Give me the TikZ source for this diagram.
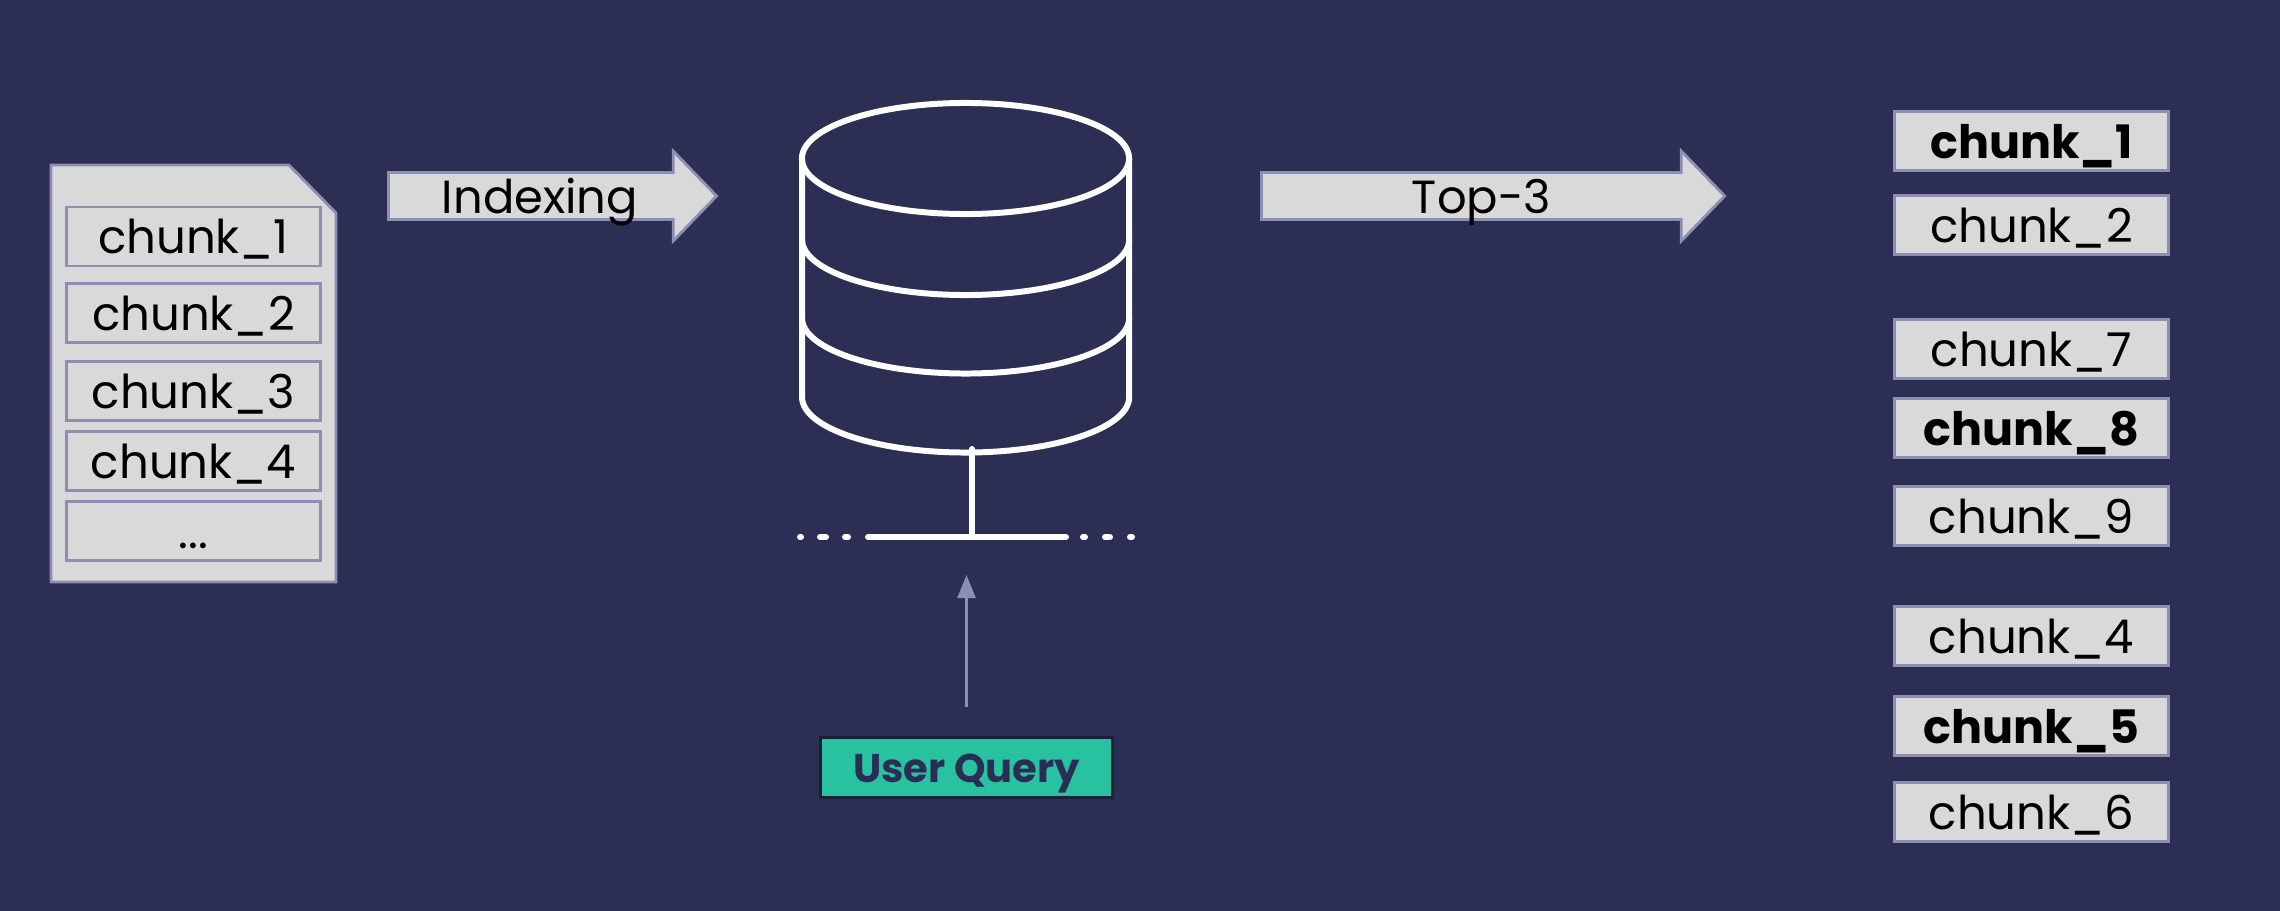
\documentclass[tikz,border=0pt]{standalone}
\usepackage{fontspec}
\setmainfont{Poppins}
\usetikzlibrary{arrows.meta,shapes.arrows}
\definecolor{bgnavy}{HTML}{2C2E54}
\definecolor{boxgrey}{HTML}{D9D9D9}
\definecolor{boxedge}{HTML}{8C8EB4}
\definecolor{queryteal}{HTML}{28C2A0}
\definecolor{querydark}{HTML}{1C1F3C}
\definecolor{querytext}{HTML}{2A2D55}
\tikzset{
  chunkbox/.style={draw=boxedge,line width=0.8pt,fill=boxgrey,inner sep=0pt,text=black,
    minimum width=2.54cm,minimum height=0.59cm,text height=0.34cm,text depth=0cm,font=\fontsize{13.25}{16}\selectfont},
  topchunk/.style={chunkbox,minimum width=2.74cm},
  hitchunk/.style={topchunk,font=\fontsize{13.1}{16}\selectfont\bfseries},
  blockarrow/.style={single arrow,draw=boxedge,line width=0.8pt,fill=boxgrey,anchor=tail,inner sep=0pt,
    text height=0.44cm,text depth=0cm,single arrow head extend=0.215cm,single arrow tip angle=92,single arrow head indent=0cm},
  arrowlabel/.style={inner sep=0pt,text=black,text height=0.34cm,text depth=0cm,font=\fontsize{13.2}{16}\selectfont},
  dbline/.style={draw=white,line width=1.7pt,line cap=round,line join=round},
  docshape/.style={draw=boxedge,line width=0.8pt,fill=boxgrey},
  querybox/.style={draw=querydark,line width=0.9pt,fill=queryteal,inner sep=0pt,text=querytext,
    minimum width=2.92cm,minimum height=0.6cm,text height=0.29cm,text depth=0cm,font=\fontsize{11.4}{14}\selectfont\bfseries},
  queryarrow/.style={draw=boxedge,line width=0.75pt,-{Triangle[length=0.23cm,width=0.18cm]}}
}
\begin{document}
\begin{tikzpicture}
    \def\x{0.01}
    \def\y{-0.01}
    \useasboundingbox (0*\x, 0*\y) rectangle (2280*\x, 910*\y);
    \fill [bgnavy] (-2*\x, -2*\y) rectangle (2282*\x, 912*\y);
    \draw [docshape] (51*\x, 165*\y) -- (289*\x, 165*\y) -- (336*\x, 213*\y) -- (336*\x, 582*\y) -- (51*\x, 582*\y) -- cycle;
    \node [chunkbox] (D0_1) at (193.5*\x, 236.5*\y) {chunk\_1};
    \node [chunkbox] (D0_2) at (193.5*\x, 313*\y) {chunk\_2};
    \node [chunkbox] (D0_3) at (193.5*\x, 391*\y) {chunk\_3};
    \node [chunkbox] (D0_4) at (193.5*\x, 461*\y) {chunk\_4};
    \node [chunkbox] (D0_5) at (193.5*\x, 531*\y) {...};
    \node [blockarrow,minimum height=3.28cm,minimum width=0.88cm] (A0_0) at (387*\x, 196*\y) {};
    \node [arrowlabel] (A0_1) at (540*\x, 196*\y) {Indexing};
    \node [blockarrow,minimum height=4.63cm,minimum width=0.88cm] (A1_0) at (1260*\x, 196*\y) {};
    \node [arrowlabel] (A1_1) at (1481.5*\x, 196*\y) {Top-3};
    \draw [dbline] (965.5*\x, 158.5*\y) ellipse [x radius=1.635, y radius=0.555];
    \draw [dbline] (802*\x, 158.5*\y) -- (802*\x, 397*\y) arc [start angle=180, end angle=360, x radius=1.635, y radius=0.555] -- (1129*\x, 158.5*\y);
    \draw [dbline] (802*\x, 239.5*\y) arc [start angle=180, end angle=360, x radius=1.635, y radius=0.555];
    \draw [dbline] (802*\x, 318*\y) arc [start angle=180, end angle=360, x radius=1.635, y radius=0.555];
    \draw [dbline] (972*\x, 449*\y) -- (972*\x, 537*\y);
    \draw [dbline] (868*\x, 537*\y) -- (1066*\x, 537*\y);
    \draw [dbline] (800*\x, 537*\y) -- (801*\x, 537*\y);
    \draw [dbline] (820*\x, 537*\y) -- (826*\x, 537*\y);
    \draw [dbline] (845*\x, 537*\y) -- (848*\x, 537*\y);
    \draw [dbline] (1083*\x, 537*\y) -- (1085*\x, 537*\y);
    \draw [dbline] (1105*\x, 537*\y) -- (1110*\x, 537*\y);
    \draw [dbline] (1130*\x, 537*\y) -- (1132*\x, 537*\y);
    \node [querybox] (Q0_0) at (966.5*\x, 767.5*\y) {User Query};
    \coordinate (Q0_1) at (966.5*\x, 575*\y);
    \path (Q0_0) edge [queryarrow,shorten <=0.29cm] (Q0_1);
    \node [hitchunk] (R0_1) at (2031.5*\x, 141*\y) {chunk\_1};
    \node [topchunk] (R0_2) at (2031.5*\x, 225*\y) {chunk\_2};
    \node [topchunk] (R1_7) at (2031.5*\x, 349*\y) {chunk\_7};
    \node [hitchunk] (R1_8) at (2031.5*\x, 428*\y) {chunk\_8};
    \node [topchunk] (R1_9) at (2031.5*\x, 516*\y) {chunk\_9};
    \node [topchunk] (R2_4) at (2031.5*\x, 636*\y) {chunk\_4};
    \node [hitchunk] (R2_5) at (2031.5*\x, 726*\y) {chunk\_5};
    \node [topchunk] (R2_6) at (2031.5*\x, 812*\y) {chunk\_6};
  \end{tikzpicture}
\end{document}
